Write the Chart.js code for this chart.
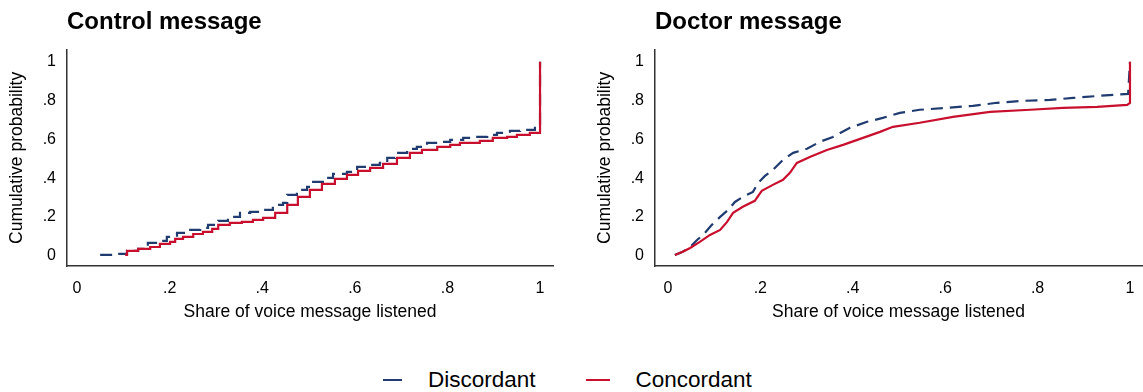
<!DOCTYPE html>
<html>
<head>
<meta charset="utf-8">
<script src="https://cdn.jsdelivr.net/npm/chart.js@4.4.1/dist/chart.umd.min.js"></script>
<style>
  html, body { margin: 0; padding: 0; background: #fff; overflow: hidden; }
  body { width: 1143px; height: 392px; position: relative; font-family: "Liberation Sans", Arial, sans-serif; }
  canvas { position: absolute; top: 0; }
  #left { left: 0; }
  #right { left: 588px; }
  #legend { position: absolute; left: 383px; top: 367px; display: flex; align-items: center; font-size: 22.5px; color: #000; }
  .item { display: flex; align-items: center; margin-right: 50px; }
  .swatch { height: 0; border-top: 2.5px solid; margin-right: 26px; }
</style>
</head>
<body>
<canvas id="left" width="565" height="330"></canvas>
<canvas id="right" width="561" height="330"></canvas>
<div id="legend"></div>
<script>
const FONT = '"Liberation Sans", Arial, sans-serif';

const xTicks = [0, 0.2, 0.4, 0.6, 0.8, 1];
const yTicks = [0, 0.2, 0.4, 0.6, 0.8, 1];
const seriesNames = ['Discordant', 'Concordant'];
const seriesColors = ['#1f3b70', '#c8102e'];

// Control message
const controlDiscX = [0.050, 0.086, 0.108, 0.132, 0.153, 0.179, 0.194, 0.216, 0.240, 0.266, 0.283, 0.305, 0.326, 0.352, 0.374, 0.402, 0.423, 0.445, 0.454, 0.475, 0.497, 0.510, 0.531, 0.553, 0.583, 0.605, 0.629, 0.654, 0.670, 0.687, 0.713, 0.734, 0.756, 0.784, 0.806, 0.834, 0.855, 0.886, 0.907, 0.935, 0.957, 0.989, 1.0];
const controlDiscY = [0.005, 0.010, 0.026, 0.036, 0.067, 0.077, 0.098, 0.119, 0.134, 0.144, 0.160, 0.180, 0.201, 0.222, 0.227, 0.237, 0.263, 0.273, 0.314, 0.340, 0.356, 0.381, 0.402, 0.423, 0.433, 0.459, 0.469, 0.479, 0.505, 0.531, 0.552, 0.562, 0.582, 0.588, 0.598, 0.608, 0.613, 0.624, 0.634, 0.644, 0.649, 0.660, 1.0];
const controlConcX = [0.104, 0.108, 0.132, 0.158, 0.179, 0.201, 0.212, 0.229, 0.251, 0.272, 0.292, 0.305, 0.330, 0.356, 0.380, 0.402, 0.428, 0.454, 0.477, 0.503, 0.529, 0.557, 0.583, 0.607, 0.633, 0.661, 0.691, 0.719, 0.745, 0.778, 0.806, 0.827, 0.870, 0.898, 0.929, 0.950, 0.978, 1.0];
const controlConcY = [0.005, 0.026, 0.036, 0.046, 0.062, 0.072, 0.088, 0.098, 0.113, 0.124, 0.139, 0.160, 0.170, 0.175, 0.186, 0.196, 0.222, 0.263, 0.304, 0.340, 0.371, 0.397, 0.418, 0.438, 0.454, 0.474, 0.505, 0.531, 0.546, 0.562, 0.572, 0.582, 0.593, 0.608, 0.613, 0.624, 0.634, 1.0];

// Doctor message
const doctorDiscX = [0.015, 0.032, 0.048, 0.063, 0.076, 0.095, 0.113, 0.130, 0.145, 0.162, 0.184, 0.195, 0.210, 0.227, 0.249, 0.271, 0.301, 0.329, 0.357, 0.394, 0.431, 0.465, 0.502, 0.545, 0.604, 0.660, 0.712, 0.768, 0.827, 0.877, 0.935, 0.996, 1.0];
const doctorDiscY = [0.005, 0.021, 0.046, 0.082, 0.108, 0.160, 0.201, 0.237, 0.278, 0.304, 0.330, 0.376, 0.412, 0.443, 0.495, 0.531, 0.552, 0.588, 0.613, 0.660, 0.691, 0.711, 0.737, 0.753, 0.763, 0.773, 0.789, 0.799, 0.804, 0.814, 0.825, 0.835, 1.0];
const doctorConcX = [0.015, 0.032, 0.048, 0.069, 0.091, 0.113, 0.128, 0.141, 0.162, 0.188, 0.203, 0.227, 0.249, 0.264, 0.279, 0.307, 0.344, 0.379, 0.416, 0.459, 0.487, 0.545, 0.617, 0.697, 0.784, 0.855, 0.929, 0.994, 1.0, 1.0];
const doctorConcY = [0.005, 0.021, 0.041, 0.072, 0.108, 0.134, 0.175, 0.222, 0.253, 0.284, 0.335, 0.366, 0.392, 0.428, 0.479, 0.510, 0.546, 0.572, 0.603, 0.639, 0.665, 0.686, 0.716, 0.742, 0.753, 0.763, 0.768, 0.778, 0.788, 1.0];

function toPoints(xs, ys) {
  return xs.map((x, i) => ({ x: x, y: ys[i] }));
}

function tickLabel(v) {
  if (v === 0) return '0';
  if (v === 1) return '1';
  return String(+v.toFixed(1)).replace(/^0/, '');
}

function makeChart(id, title, discX, discY, concX, concY, xMin, xMax, stepped, padRight) {
  new Chart(document.getElementById(id), {
    type: 'line',
    data: {
      datasets: [
        { label: seriesNames[0], data: toPoints(discX, discY), borderColor: seriesColors[0], borderDash: [12, 7],
          borderWidth: 2.2, pointRadius: 0, stepped: stepped, order: 1 },
        { label: seriesNames[1], data: toPoints(concX, concY), borderColor: seriesColors[1],
          borderWidth: 2.2, pointRadius: 0, stepped: stepped, order: 0 }
      ]
    },
    options: {
      responsive: false,
      animation: false,
      layout: { padding: { left: 0, right: padRight, top: 8, bottom: 7 } },
      plugins: {
        legend: { display: false },
        tooltip: { enabled: false },
        title: {
          display: true, text: title, align: 'start', fullSize: false, color: '#000',
          font: { family: FONT, size: 24, weight: 'bold' },
          padding: { top: 0, bottom: 13 }
        }
      },
      scales: {
        x: {
          type: 'linear', min: xMin, max: xMax,
          grid: { display: false, drawTicks: false },
          border: { display: true, color: '#333', width: 1.5 },
          afterBuildTicks: s => { s.ticks = xTicks.map(v => ({ value: v })); },
          afterFit: s => { s.height = 57; },
          ticks: { callback: tickLabel, padding: 12.5, color: '#000', font: { family: FONT, size: 16 }, maxRotation: 0, autoSkip: false },
          title: { display: true, text: 'Share of voice message listened', color: '#000', font: { family: FONT, size: 17.5 }, padding: { top: 0, bottom: 0 } }
        },
        y: {
          type: 'linear', min: -0.052, max: 1.062,
          grid: { display: false, drawTicks: false },
          border: { display: true, color: '#333', width: 1.5 },
          afterBuildTicks: s => { s.ticks = yTicks.map(v => ({ value: v })); },
          afterFit: s => { s.width = 67; },
          ticks: { callback: tickLabel, padding: 11, color: '#000', font: { family: FONT, size: 16 }, autoSkip: false },
          title: { display: true, text: 'Cumulative probability', color: '#000', font: { family: FONT, size: 17.5 }, padding: { top: 7, bottom: 0 } }
        }
      }
    }
  });
}

makeChart('left', 'Control message', controlDiscX, controlDiscY, controlConcX, controlConcY, -0.0216, 1.028, true, 12);
makeChart('right', 'Doctor message', doctorDiscX, doctorDiscY, doctorConcX, doctorConcY, -0.028, 1.026, false, 7);

// shared legend
const legend = document.getElementById('legend');
seriesNames.forEach((name, i) => {
  const item = document.createElement('div');
  item.className = 'item';
  const sw = document.createElement('span');
  sw.className = 'swatch';
  sw.style.borderColor = seriesColors[i];
  sw.style.width = (i === 0 ? 19 : 24) + 'px';
  const label = document.createElement('span');
  label.textContent = name;
  item.appendChild(sw);
  item.appendChild(label);
  legend.appendChild(item);
});
</script>
</body>
</html>
